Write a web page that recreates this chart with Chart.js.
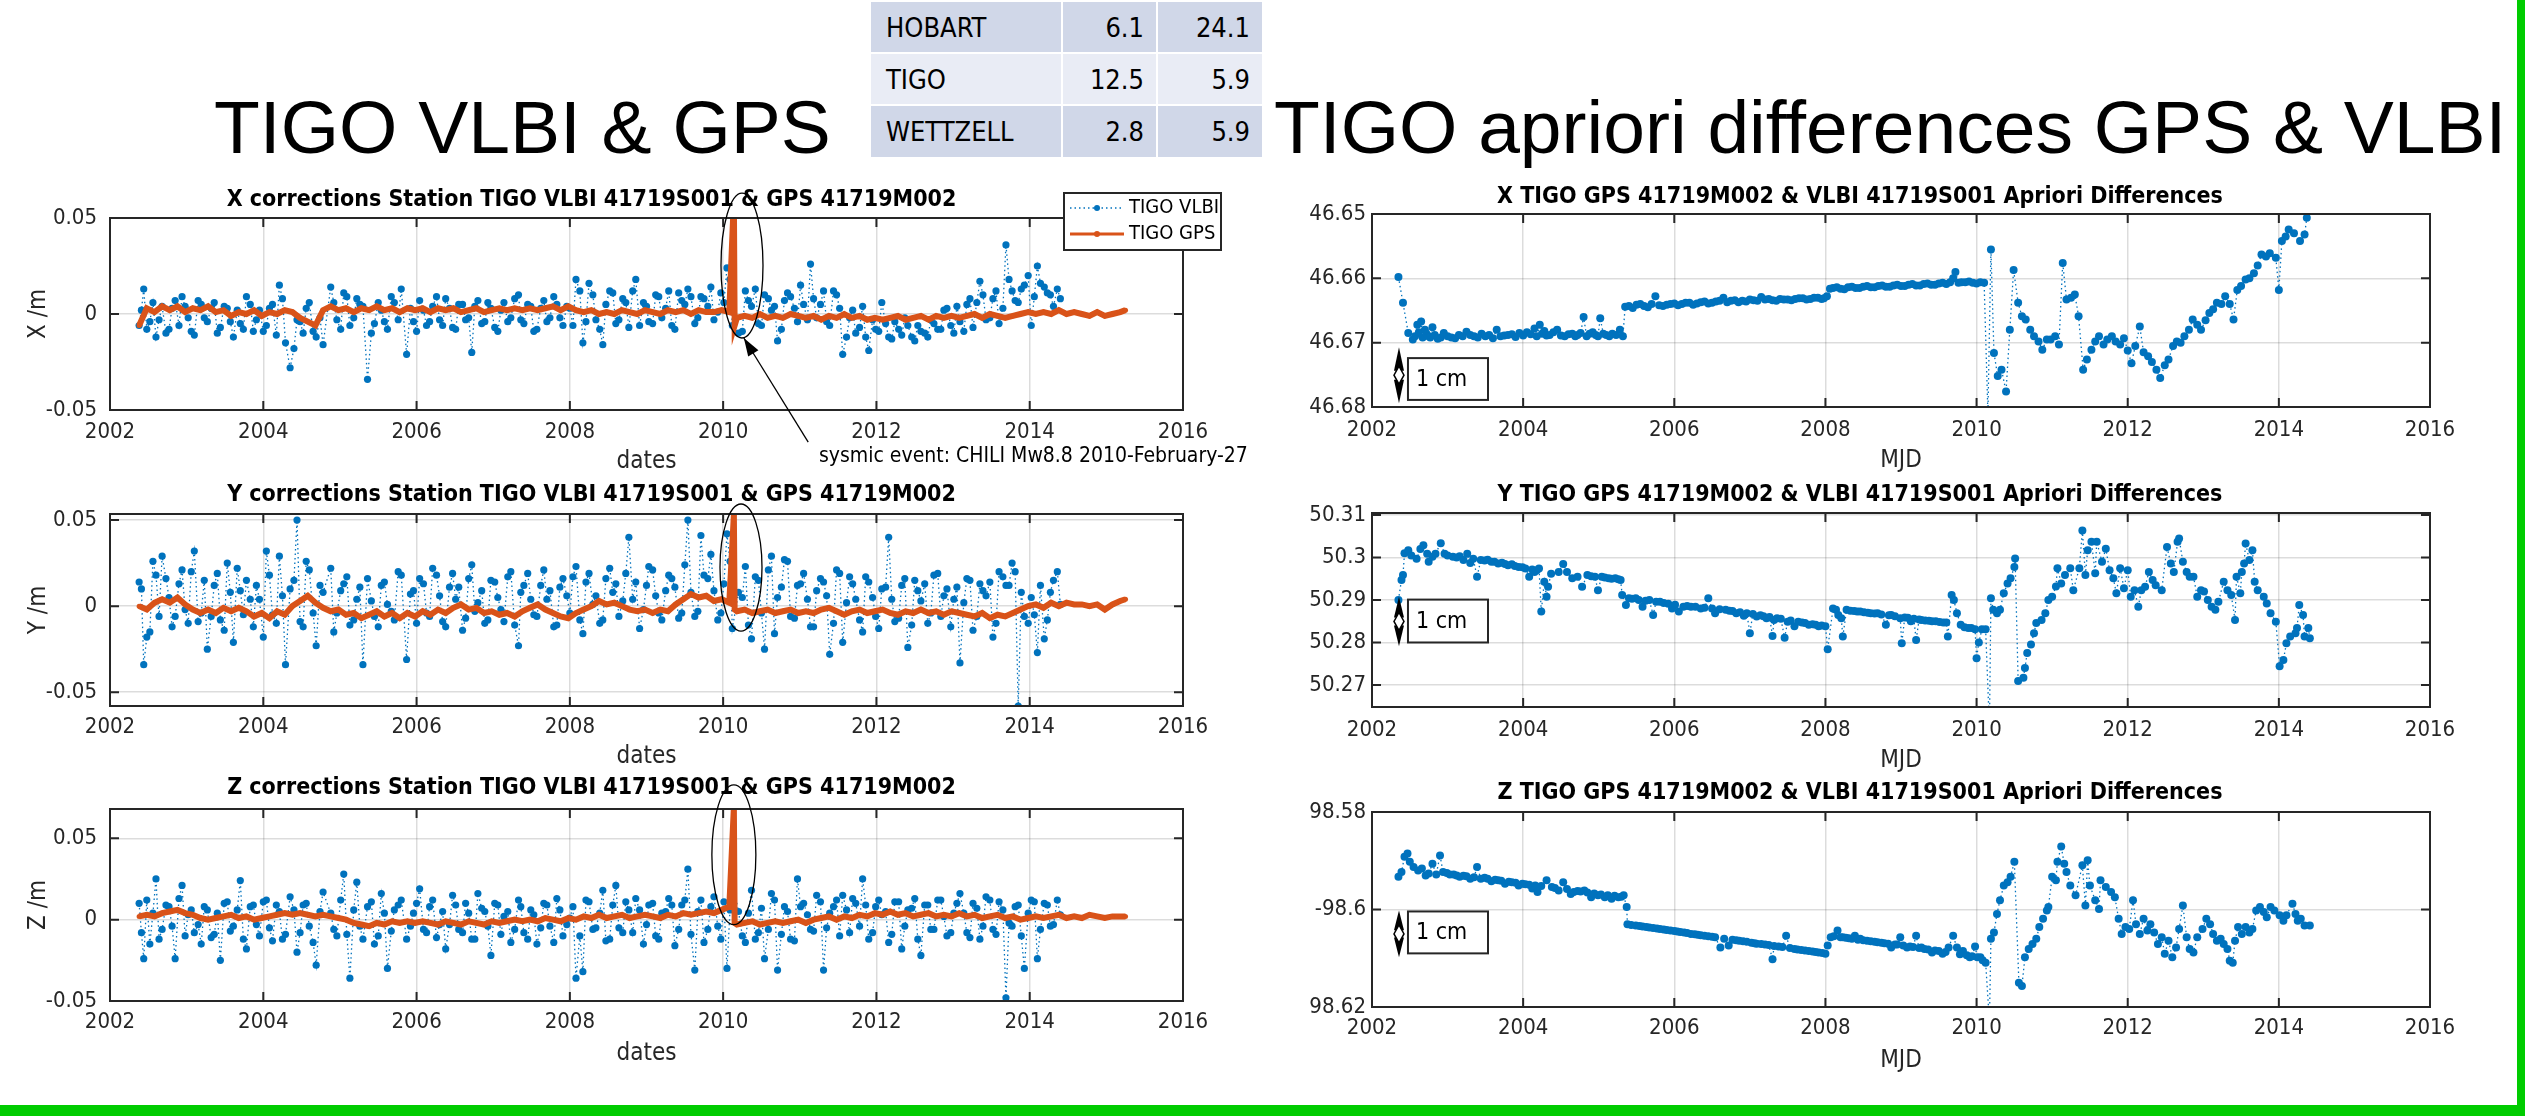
<!DOCTYPE html>
<html>
<head>
<meta charset="utf-8">
<script src="https://cdn.jsdelivr.net/npm/chart.js@4.4.1/dist/chart.umd.min.js"></script>
<style>
html,body{margin:0;padding:0;background:#fff;width:2525px;height:1116px;overflow:hidden;position:relative}
.big{position:absolute;font-family:'Liberation Sans',Arial,sans-serif;font-size:75px;line-height:75px;color:#000;white-space:nowrap}
.cell{position:absolute;display:flex;align-items:center;font-family:'Liberation Sans Narrow','DejaVu Sans Condensed',sans-serif;font-size:27px;color:#000;box-sizing:border-box}
canvas{position:absolute}
</style>
</head>
<body>
<div class="big" style="left:214px;top:90px">TIGO VLBI &amp; GPS</div>
<div class="big" style="left:1274px;top:90px">TIGO apriori differences GPS &amp; VLBI</div>
<div id="tbl"></div>
<div style="position:absolute;left:0;top:1105px;width:2525px;height:11px;background:#00cc00"></div>
<div style="position:absolute;left:2517px;top:0;width:8px;height:1116px;background:#00cc00"></div>
<script>
// ---------- table ----------
const tableNames = ['HOBART','TIGO','WETTZELL'];
const tableCol1 = ['6.1','12.5','2.8'];
const tableCol2 = ['24.1','5.9','5.9'];

// ---------- tick labels ----------
const X_TICKS = [2002,2004,2006,2008,2010,2012,2014,2016];
const X_TICK_LABELS = ['2002','2004','2006','2008','2010','2012','2014','2016'];
const CORR_TICKS = [-0.05,0,0.05];
const CORR_TICK_LABELS = ['-0.05','0','0.05'];
const APR_X_TICKS = [46.65,46.66,46.67,46.68];
const APR_X_TICK_LABELS = ['46.65','46.66','46.67','46.68'];
const APR_Y_TICKS = [50.27,50.28,50.29,50.30,50.31];
const APR_Y_TICK_LABELS = ['50.27','50.28','50.29','50.3','50.31'];
const APR_Z_TICKS = [98.58,98.60,98.62];
const APR_Z_TICK_LABELS = ['98.58','-98.6','98.62'];

// ---------- VLBI corrections (left column) ----------
const vlbiDates = [
2002.38,2002.44,2002.52,2002.60,2002.68,2002.77,2002.85,2002.94,2003.02,2003.10,
2003.19,2003.27,2003.36,2003.44,2003.53,2003.61,2003.70,2003.78,2003.87,2003.95,
2004.04,2004.12,2004.21,2004.29,2004.35,2004.44,2004.52,2004.60,2004.69,2004.78,
2004.88,2004.96,2005.05,2005.13,2005.22,2005.30,2005.36,2005.45,2005.54,2005.62,
2005.71,2005.80,2005.87,2005.96,2006.04,2006.13,2006.21,2006.30,2006.38,2006.47,
2006.55,2006.64,2006.72,2006.80,2006.89,2006.97,2007.06,2007.14,2007.23,2007.33,
2007.40,2007.49,2007.57,2007.66,2007.74,2007.83,2007.91,2008.00,2008.08,2008.17,
2008.25,2008.34,2008.43,2008.52,2008.60,2008.69,2008.77,2008.86,2008.96,2009.03,
2009.12,2009.20,2009.29,2009.37,2009.46,2009.54,2009.63,2009.71,2009.80,2009.88,
2009.97,2010.05,2010.12,2010.20,2010.29,2010.37,2010.46,2010.54,2010.63,2010.71,
2010.80,2010.88,2010.97,2011.05,2011.14,2011.22,2011.31,2011.39,2011.48,2011.56,
2011.65,2011.73,2011.82,2011.90,2011.99,2012.07,2012.16,2012.24,2012.33,2012.41,
2012.50,2012.58,2012.67,2012.75,2012.84,2012.92,2013.01,2013.09,2013.18,2013.26,
2013.35,2013.43,2013.52,2013.60,2013.69,2013.77,2013.85,2013.93,2014.02,2014.10,
2014.19,2014.27,2014.36,2014.40];
const vlbiX = [
-0.006,0.013,-0.004,-0.012,0.004,-0.008,0.007,0.009,-0.002,-0.011,
0.005,-0.004,0.006,-0.007,0.003,-0.012,-0.005,0.009,-0.009,0.002,
-0.006,0.005,0.015,-0.015,-0.028,-0.003,-0.010,0.006,-0.012,-0.016,
0.014,-0.003,0.011,-0.006,0.008,0.004,-0.034,-0.005,0.002,-0.008,
0.006,0.013,-0.021,-0.004,0.007,-0.006,0.004,-0.003,0.008,-0.007,
0.005,-0.003,-0.020,0.007,-0.004,0.003,-0.009,0.006,-0.002,0.010,
-0.005,0.004,-0.008,0.007,-0.002,0.005,-0.006,0.003,0.018,-0.015,
0.016,-0.003,-0.016,0.012,-0.005,0.008,-0.007,0.018,0.006,-0.004,
0.010,-0.002,0.012,-0.008,0.007,0.013,-0.005,0.009,0.004,-0.003,
0.011,0.024,-0.006,-0.010,0.012,0.004,-0.005,0.010,0.002,-0.014,
0.007,0.009,-0.004,0.005,0.026,-0.002,0.012,-0.006,0.010,-0.021,
-0.002,-0.010,0.004,-0.019,-0.008,0.006,-0.012,-0.004,-0.011,-0.006,
-0.014,-0.009,-0.012,-0.005,-0.008,0.003,-0.010,-0.004,0.005,-0.007,
0.017,-0.003,0.008,-0.005,0.036,0.012,0.006,0.015,-0.006,0.025,
0.014,0.010,0.013,0.008];
const vlbiY = [
0.014,-0.034,-0.015,0.018,0.029,0.005,-0.006,0.021,-0.010,0.032,
-0.004,-0.025,0.012,-0.008,0.025,-0.021,0.009,0.015,-0.012,0.004,
0.032,-0.005,0.029,-0.034,0.010,0.050,-0.012,0.021,-0.023,0.008,
0.022,-0.004,0.013,-0.011,0.004,-0.034,0.016,-0.006,0.012,0.001,
-0.008,0.018,-0.031,0.009,0.016,-0.004,0.022,0.006,-0.012,0.019,
0.011,-0.007,0.024,0.002,-0.010,0.015,0.005,-0.009,0.020,-0.023,
0.012,0.004,-0.006,0.021,0.009,-0.011,0.016,-0.004,0.023,-0.016,
0.019,0.006,-0.008,0.022,0.013,0.003,0.040,0.014,-0.002,0.023,
0.006,-0.008,0.018,0.011,-0.004,0.050,-0.006,0.041,0.016,0.009,
-0.004,0.042,-0.013,0.008,0.023,-0.019,0.015,-0.025,0.029,0.005,
0.027,-0.006,0.012,0.019,-0.012,0.009,0.014,-0.028,0.021,-0.021,
0.017,0.004,-0.015,0.014,-0.006,0.010,0.040,-0.009,0.012,-0.024,
0.015,0.003,-0.010,0.018,-0.006,0.010,0.004,-0.033,0.016,-0.014,
0.013,0.006,-0.018,0.020,0.012,0.025,-0.058,-0.006,0.005,-0.027,
-0.019,0.008,0.020,0.001];
const vlbiZ = [
0.010,-0.024,-0.015,0.025,-0.006,0.008,-0.024,0.021,0.003,-0.008,
-0.015,0.006,-0.009,-0.025,0.011,-0.004,0.024,-0.018,0.009,-0.010,
0.012,-0.013,0.005,-0.009,0.014,-0.020,0.009,-0.004,-0.028,0.017,
0.004,-0.010,0.028,-0.036,0.023,-0.012,0.008,-0.015,0.016,-0.030,
0.006,0.012,-0.012,0.004,0.019,-0.008,0.012,-0.003,-0.018,0.015,
-0.006,0.010,-0.012,0.016,0.005,-0.022,0.009,0.002,-0.014,0.012,
-0.008,0.006,-0.015,0.010,-0.004,0.013,-0.010,0.001,-0.036,-0.032,
0.011,-0.005,0.018,-0.012,0.021,-0.008,0.006,0.013,-0.015,0.009,
-0.010,0.004,0.013,-0.016,0.009,0.031,-0.031,0.012,-0.006,0.014,
-0.012,-0.030,0.024,0.005,-0.014,0.018,-0.008,-0.024,0.016,-0.031,
0.008,-0.012,0.025,0.010,-0.006,0.015,-0.031,0.004,0.012,0.015,
-0.008,0.010,0.025,-0.012,0.008,0.003,-0.014,0.011,-0.018,0.006,
0.013,-0.022,0.009,-0.006,0.012,-0.010,0.004,0.016,-0.008,0.010,
-0.012,0.014,-0.006,0.011,-0.048,-0.004,0.009,-0.030,0.012,-0.024,
0.010,-0.004,0.012,0.003];
// additional VLBI sessions (interleaved with the ones above)
const vlbiDates2 = [
2002.41,2002.48,2002.56,2002.64,2002.73,2002.81,2002.90,2002.98,2003.06,2003.15,
2003.23,2003.32,2003.40,2003.49,2003.57,2003.66,2003.74,2003.83,2003.91,2004.00,
2004.08,2004.17,2004.25,2004.40,2004.48,2004.56,2004.65,2004.74,2004.92,2005.01,
2005.09,2005.18,2005.26,2005.41,2005.50,2005.58,2005.67,2005.76,2005.92,2006.00,
2006.09,2006.17,2006.26,2006.34,2006.43,2006.51,2006.60,2006.68,2006.76,2006.85,
2006.93,2007.02,2007.10,2007.19,2007.28,2007.36,2007.45,2007.53,2007.62,2007.70,
2007.79,2007.87,2007.96,2008.04,2008.13,2008.21,2008.30,2008.39,2008.47,2008.56,
2008.64,2008.73,2008.82,2008.91,2009.00,2009.08,2009.16,2009.25,2009.33,2009.42,
2009.50,2009.58,2009.67,2009.75,2009.84,2009.93,2010.01,2010.09,2010.25,2010.33,
2010.42,2010.50,2010.59,2010.67,2010.76,2010.84,2010.93,2011.01,2011.10,2011.18,
2011.27,2011.35,2011.44,2011.52,2011.61,2011.69,2011.78,2011.86,2011.95,2012.03,
2012.12,2012.20,2012.29,2012.37,2012.46,2012.54,2012.63,2012.71,2012.80,2012.88,
2012.97,2013.05,2013.14,2013.22,2013.31,2013.39,2013.48,2013.56,2013.65,2013.73,
2013.81,2013.89,2013.98,2014.06,2014.14,2014.23,2014.31];
const vlbiX2 = [
0.002,-0.008,0.006,-0.003,-0.010,0.003,-0.006,0.004,-0.009,0.007,
-0.002,0.003,-0.010,0.004,-0.004,0.002,-0.008,0.005,-0.003,-0.009,
0.003,-0.011,0.008,-0.018,-0.004,0.003,-0.009,-0.002,0.006,-0.008,
0.009,-0.002,0.005,-0.010,0.006,-0.004,0.009,-0.003,0.003,-0.009,
0.002,-0.004,0.009,-0.006,0.003,-0.008,0.005,-0.002,0.004,-0.005,
0.006,-0.007,0.002,-0.004,0.008,-0.003,0.005,-0.009,0.003,-0.004,
0.009,-0.002,0.004,-0.006,0.012,-0.004,0.010,-0.008,0.005,0.011,
-0.003,0.006,0.012,-0.006,0.004,-0.005,0.009,0.003,-0.006,0.011,
0.005,0.009,-0.002,0.008,0.014,0.001,0.006,0.018,-0.009,0.007,
0.013,-0.006,0.008,0.004,-0.008,0.011,0.003,0.015,-0.003,0.008,
0.005,-0.004,0.012,0.003,-0.012,0.002,-0.007,-0.012,-0.003,-0.009,
-0.005,-0.013,-0.008,-0.002,-0.012,-0.006,-0.010,-0.003,-0.008,0.002,
-0.006,0.004,-0.009,0.008,0.006,0.010,-0.002,0.012,0.003,0.018,
0.007,0.013,0.020,0.009,0.016,0.011,0.004];
const vlbiY2 = [
0.010,-0.018,0.026,-0.006,0.016,-0.012,0.013,-0.002,0.020,-0.009,
0.015,-0.006,0.019,-0.014,0.008,0.022,-0.005,0.004,0.012,-0.018,
0.018,-0.010,0.006,0.015,-0.009,0.026,-0.004,0.012,-0.015,0.009,
0.017,-0.008,0.011,0.003,-0.012,0.014,-0.003,0.020,0.007,-0.010,
0.013,-0.006,0.018,-0.009,0.011,0.004,-0.014,0.016,-0.003,0.009,
-0.008,0.014,-0.002,0.017,-0.011,0.008,0.019,-0.005,0.012,0.004,
-0.012,0.011,0.006,0.017,-0.008,0.014,0.001,-0.010,0.016,0.008,
-0.006,0.019,0.004,-0.013,0.012,0.021,-0.004,0.009,0.016,-0.007,
0.024,0.008,-0.003,0.018,0.030,-0.008,0.013,0.026,0.005,-0.011,
0.017,-0.004,0.021,-0.016,0.011,0.026,-0.007,0.013,0.004,-0.012,
0.016,0.006,-0.010,0.019,0.002,0.013,-0.008,0.017,0.005,-0.013,
0.011,0.004,-0.007,0.016,-0.011,0.009,0.013,-0.004,0.019,0.006,
-0.012,0.011,0.002,0.015,-0.006,0.009,0.014,-0.010,0.017,0.012,
0.020,0.008,-0.010,-0.005,0.012,-0.008,0.015];
const vlbiZ2 = [
-0.008,0.012,0.004,-0.012,0.009,-0.004,0.013,-0.010,0.006,-0.003,
0.008,-0.011,0.004,0.010,-0.007,0.006,-0.012,0.008,-0.003,0.011,
-0.005,0.009,-0.012,0.006,-0.008,0.010,-0.014,0.005,-0.006,0.012,
-0.009,0.006,-0.004,0.011,-0.010,0.004,-0.007,0.009,-0.004,0.010,
-0.006,0.008,-0.011,0.005,-0.003,0.009,-0.008,0.004,-0.012,0.007,
-0.004,0.010,-0.009,0.005,-0.006,0.008,-0.012,0.003,-0.005,0.009,
-0.014,0.006,-0.003,0.008,-0.010,0.012,-0.006,0.004,-0.013,0.009,
-0.005,0.011,-0.008,0.006,-0.003,0.010,-0.012,0.005,0.009,-0.006,
0.012,-0.009,0.005,-0.014,0.008,-0.004,0.011,0.006,-0.010,0.004,
-0.012,0.007,-0.006,0.012,-0.009,0.005,-0.013,0.008,0.003,-0.007,
0.011,-0.005,0.008,-0.010,0.006,0.013,-0.004,0.009,-0.008,0.012,
0.005,-0.009,0.011,-0.004,0.007,-0.012,0.009,-0.006,0.012,0.002,
-0.008,0.010,0.004,-0.011,0.007,-0.004,0.012,-0.009,0.006,-0.002,
0.008,-0.010,0.004,0.011,-0.006,0.009,-0.003];

// ---------- GPS corrections (left column) ----------
const gpsDates = [
2002.38,2002.48,2002.58,2002.68,2002.78,2002.88,2002.98,2003.08,2003.18,2003.28,
2003.38,2003.48,2003.58,2003.68,2003.78,2003.88,2003.98,2004.08,2004.18,2004.28,
2004.38,2004.48,2004.58,2004.68,2004.78,2004.88,2004.98,2005.08,2005.18,2005.28,
2005.38,2005.48,2005.58,2005.68,2005.78,2005.88,2005.98,2006.08,2006.18,2006.28,
2006.38,2006.48,2006.58,2006.68,2006.78,2006.88,2006.98,2007.08,2007.18,2007.28,
2007.38,2007.48,2007.58,2007.68,2007.78,2007.88,2007.98,2008.08,2008.18,2008.28,
2008.38,2008.48,2008.58,2008.68,2008.78,2008.88,2008.98,2009.08,2009.18,2009.28,
2009.38,2009.48,2009.58,2009.68,2009.78,2009.88,2009.98,2010.08,2010.14,2010.15,
2010.18,2010.28,2010.38,2010.48,2010.58,2010.68,2010.78,2010.88,2010.98,2011.08,
2011.18,2011.28,2011.38,2011.48,2011.58,2011.68,2011.78,2011.88,2011.98,2012.08,
2012.18,2012.28,2012.38,2012.48,2012.58,2012.68,2012.78,2012.88,2012.98,2013.08,
2013.18,2013.28,2013.38,2013.48,2013.58,2013.68,2013.78,2013.88,2013.98,2014.08,
2014.18,2014.28,2014.38,2014.48,2014.58,2014.68,2014.78,2014.88,2014.98,2015.08,
2015.18,2015.25];
const gpsX = [
-0.006,0.003,0.001,0.004,0.002,0.004,0.001,0.003,0.002,0.004,
0.001,0.002,-0.001,0.001,0.000,0.002,-0.001,0.001,0.000,0.002,
0.001,-0.002,-0.004,-0.006,0.002,0.004,0.002,0.003,0.001,0.003,
0.002,0.004,0.002,0.003,0.001,0.003,0.002,0.003,0.001,0.003,
0.002,0.003,0.001,0.002,0.003,0.001,0.002,0.003,0.002,0.003,
0.002,0.003,0.002,0.003,0.004,0.002,0.004,0.002,0.001,0.002,
0.000,0.001,0.000,0.002,0.001,0.000,0.002,0.001,0.000,0.002,
0.001,0.002,0.000,0.002,0.001,0.001,0.002,0.001,0.060,-0.006,
-0.002,-0.001,-0.002,0.000,-0.002,-0.001,-0.002,0.000,-0.001,-0.002,
-0.001,-0.003,-0.001,-0.002,0.000,-0.002,-0.001,-0.003,-0.002,-0.003,
-0.002,-0.001,-0.003,-0.002,-0.001,-0.003,-0.001,-0.002,-0.001,-0.002,
-0.001,0.000,-0.002,0.000,-0.001,-0.002,-0.001,0.000,0.001,0.000,
0.001,0.000,0.002,0.000,0.001,0.000,-0.001,0.001,-0.001,0.000,
0.001,0.002];
const gpsY = [
0.000,-0.002,0.002,0.004,0.002,0.005,0.001,-0.002,-0.004,-0.002,
-0.004,-0.001,-0.003,-0.001,-0.003,-0.006,-0.004,-0.007,-0.003,-0.005,
0.000,0.003,0.006,0.002,-0.001,-0.003,-0.002,-0.005,-0.004,-0.007,
-0.005,-0.003,-0.006,-0.004,-0.007,-0.004,-0.006,-0.003,-0.005,-0.002,
-0.004,-0.001,0.001,-0.002,-0.001,-0.004,-0.003,-0.005,-0.004,-0.006,
-0.003,-0.001,0.001,-0.002,-0.004,-0.006,-0.007,-0.004,-0.002,0.000,
0.003,0.001,0.002,0.000,-0.002,-0.003,-0.002,-0.004,-0.002,-0.003,
0.001,0.004,0.007,0.005,0.006,0.003,0.004,0.002,0.053,-0.002,
-0.003,-0.002,-0.004,-0.003,-0.002,-0.004,-0.003,-0.002,-0.004,-0.003,
-0.004,-0.002,-0.001,-0.003,-0.005,-0.003,-0.002,-0.004,-0.003,-0.002,
-0.004,-0.005,-0.003,-0.004,-0.002,-0.004,-0.003,-0.005,-0.003,-0.004,
-0.005,-0.006,-0.004,-0.007,-0.005,-0.006,-0.004,-0.002,0.000,0.001,
-0.001,0.002,0.000,0.002,0.001,0.001,0.000,0.001,-0.002,0.001,
0.003,0.004];
const gpsZ = [
0.002,0.003,0.002,0.004,0.005,0.006,0.004,0.003,0.001,0.000,
0.001,0.002,0.003,0.001,0.002,0.000,0.001,0.002,0.003,0.004,
0.003,0.004,0.003,0.002,0.003,0.002,0.001,0.000,-0.002,-0.003,
-0.004,-0.002,-0.003,-0.001,-0.002,-0.001,-0.002,-0.001,-0.002,-0.003,
-0.001,-0.002,-0.003,-0.001,-0.002,-0.003,-0.001,-0.002,-0.001,0.000,
-0.001,0.000,-0.001,0.001,0.000,-0.001,0.001,0.000,0.002,0.001,
0.003,0.001,0.002,0.003,0.001,0.002,0.003,0.002,0.001,0.003,
0.002,0.004,0.003,0.004,0.005,0.004,0.006,0.008,0.069,-0.002,
-0.003,-0.002,-0.001,-0.003,-0.002,-0.001,-0.002,-0.001,0.000,-0.002,
0.000,0.001,0.002,0.000,0.002,0.001,0.003,0.002,0.004,0.003,
0.005,0.003,0.004,0.002,0.003,0.004,0.002,0.003,0.002,0.004,
0.002,0.003,0.001,0.002,0.003,0.001,0.002,0.000,0.001,0.002,
0.001,0.002,0.003,0.001,0.002,0.001,0.003,0.002,0.001,0.002,
0.002,0.002];

// ---------- Apriori differences (right column) ----------
const aprXDates = [
2002.35,2002.41,2002.48,2002.54,2002.60,2002.65,2002.70,2002.75,2002.80,2002.87,
2002.95,2003.05,2003.15,2003.25,2003.35,2003.45,2003.55,2003.65,2003.75,2003.85,
2003.95,2004.05,2004.15,2004.22,2004.28,2004.35,2004.45,2004.55,2004.65,2004.72,
2004.80,2004.88,2004.96,2005.02,2005.10,2005.18,2005.28,2005.32,2005.35,2005.45,
2005.55,2005.65,2005.75,2005.85,2005.95,2006.05,2006.15,2006.25,2006.35,2006.45,
2006.55,2006.65,2006.75,2006.85,2006.95,2007.05,2007.15,2007.25,2007.35,2007.45,
2007.55,2007.65,2007.75,2007.85,2007.95,2008.02,2008.06,2008.15,2008.25,2008.35,
2008.45,2008.55,2008.65,2008.75,2008.85,2008.95,2009.05,2009.15,2009.25,2009.35,
2009.45,2009.55,2009.65,2009.72,2009.80,2009.90,2010.00,2010.10,2010.15,2010.19,
2010.23,2010.28,2010.33,2010.39,2010.44,2010.49,2010.55,2010.60,2010.65,2010.71,
2010.76,2010.82,2010.87,2010.93,2010.98,2011.04,2011.09,2011.14,2011.19,2011.25,
2011.30,2011.35,2011.41,2011.46,2011.52,2011.57,2011.62,2011.68,2011.73,2011.79,
2011.84,2011.90,2011.95,2012.00,2012.05,2012.10,2012.16,2012.21,2012.27,2012.32,
2012.38,2012.43,2012.49,2012.54,2012.60,2012.65,2012.70,2012.75,2012.81,2012.86,
2012.92,2012.97,2013.03,2013.08,2013.13,2013.18,2013.24,2013.29,2013.35,2013.40,
2013.45,2013.50,2013.56,2013.61,2013.67,2013.72,2013.77,2013.83,2013.88,2013.96,
2014.00,2014.04,2014.09,2014.13,2014.20,2014.28,2014.34,2014.37];
const aprXValues = [
46.6598,46.6638,46.6685,46.6695,46.6672,46.6667,46.6680,46.6690,46.6676,46.6694,
46.6685,46.6692,46.6688,46.6683,46.6690,46.6686,46.6688,46.6680,46.6689,46.6687,
46.6685,46.6684,46.6678,46.6672,46.6682,46.6688,46.6680,46.6690,46.6686,46.6688,
46.6660,46.6686,46.6688,46.6662,46.6688,46.6686,46.6680,46.6690,46.6644,46.6646,
46.6640,46.6645,46.6628,46.6643,46.6640,46.6642,46.6638,46.6641,46.6637,46.6639,
46.6636,46.6630,46.6635,46.6637,46.6636,46.6634,46.6629,46.6632,46.6635,46.6633,
46.6634,46.6631,46.6633,46.6630,46.6632,46.6628,46.6616,46.6614,46.6617,46.6613,
46.6615,46.6612,46.6614,46.6611,46.6613,46.6610,46.6612,46.6609,46.6611,46.6608,
46.6610,46.6607,46.6606,46.6590,46.6606,46.6605,46.6608,46.6607,46.6810,46.6555,
46.6716,46.6752,46.6742,46.6776,46.6680,46.6587,46.6638,46.6659,46.6664,46.6680,
46.6690,46.6698,46.6711,46.6695,46.6695,46.6690,46.6703,46.6576,46.6633,46.6630,
46.6625,46.6659,46.6742,46.6726,46.6711,46.6698,46.6690,46.6703,46.6695,46.6690,
46.6698,46.6703,46.6693,46.6712,46.6732,46.6705,46.6675,46.6715,46.6721,46.6730,
46.6742,46.6755,46.6735,46.6726,46.6705,46.6698,46.6700,46.6690,46.6680,46.6664,
46.6672,46.6680,46.6665,46.6654,46.6648,46.6638,46.6640,46.6628,46.6640,46.6664,
46.6618,46.6612,46.6602,46.6600,46.6592,46.6580,46.6563,46.6566,46.6561,46.6568,
46.6618,46.6542,46.6535,46.6524,46.6530,46.6542,46.6532,46.6506];
const aprXDates2 = [
2002.57,2002.62,2002.67,2002.72,2002.77,2002.83,2002.91,2003.00,2003.10,2003.20,
2003.30,2003.40,2003.50,2003.60,2003.70,2003.80,2003.90,2004.00,2004.10,2004.18,
2004.25,2004.31,2004.40,2004.50,2004.60,2004.69,2004.76,2004.84,2004.92,2004.99,
2005.06,2005.14,2005.23,
2005.40,2005.50,2005.60,2005.70,2005.80,2005.90,2006.00,2006.10,2006.20,2006.30,
2006.40,2006.50,2006.60,2006.70,2006.80,2006.90,2007.00,2007.10,2007.20,2007.30,
2007.40,2007.50,2007.60,2007.70,2007.80,2007.90,2007.98,
2008.10,2008.20,2008.30,2008.40,2008.50,2008.60,2008.70,2008.80,2008.90,2009.00,
2009.10,2009.20,2009.30,2009.40,2009.50,2009.60,2009.69,2009.76,2009.85,2009.95,2010.05];
const aprXValues2 = [
46.6690,46.6684,46.6692,46.6686,46.6692,46.6688,46.6692,46.6690,46.6693,46.6690,
46.6688,46.6692,46.6690,46.6693,46.6690,46.6688,46.6691,46.6689,46.6687,46.6690,
46.6686,46.6689,46.6684,46.6689,46.6687,46.6690,46.6685,46.6690,46.6684,46.6690,
46.6686,46.6690,46.6688,
46.6643,46.6641,46.6643,46.6640,46.6642,46.6641,46.6639,46.6640,46.6638,46.6639,
46.6636,46.6638,46.6635,46.6637,46.6634,46.6635,46.6633,46.6635,46.6633,46.6634,
46.6632,46.6633,46.6632,46.6631,46.6632,46.6630,46.6631,
46.6615,46.6616,46.6614,46.6615,46.6613,46.6614,46.6612,46.6613,46.6611,46.6612,
46.6610,46.6611,46.6609,46.6610,46.6608,46.6609,46.6600,46.6607,46.6606,46.6607,46.6606];

const aprYDates = [
2002.35,2002.39,2002.41,2002.43,2002.48,2002.52,2002.59,2002.64,2002.68,2002.73,
2002.75,2002.80,2002.84,2002.91,2002.96,2003.07,2003.21,2003.26,2003.30,2003.39,
2003.44,2003.58,2003.67,2003.80,2003.94,2004.03,2004.08,2004.15,2004.21,2004.24,
2004.28,2004.31,2004.33,2004.37,2004.47,2004.53,2004.58,2004.65,2004.72,2004.78,
2004.85,2004.95,2004.99,2005.04,2005.13,2005.22,2005.29,2005.31,2005.36,2005.40,
2005.49,2005.58,2005.67,2005.72,2005.81,2005.97,2006.06,2006.12,2006.22,2006.35,
2006.45,2006.54,2006.68,2006.82,2006.92,2007.00,2007.09,2007.22,2007.30,2007.32,
2007.46,2007.50,2007.59,2007.78,2007.91,2008.00,2008.03,2008.10,2008.17,2008.21,
2008.23,2008.28,2008.46,2008.69,2008.80,2008.87,2008.99,2009.01,2009.13,2009.20,
2009.27,2009.46,2009.60,2009.62,2009.67,2009.70,2009.74,2009.79,2009.89,2009.98,
2010.00,2010.03,2010.12,2010.17,2010.19,2010.22,2010.27,2010.31,2010.36,2010.41,
2010.45,2010.50,2010.51,2010.55,2010.62,2010.64,2010.67,2010.72,2010.76,2010.79,
2010.86,2010.91,2010.95,2011.00,2011.05,2011.07,2011.12,2011.17,2011.24,2011.28,
2011.36,2011.40,2011.44,2011.47,2011.52,2011.57,2011.59,2011.66,2011.71,2011.76,
2011.81,2011.85,2011.90,2011.95,2012.00,2012.04,2012.09,2012.14,2012.18,2012.23,
2012.28,2012.33,2012.37,2012.45,2012.52,2012.57,2012.61,2012.66,2012.68,2012.73,
2012.78,2012.82,2012.87,2012.92,2012.97,2013.01,2013.06,2013.11,2013.16,2013.20,
2013.27,2013.32,2013.37,2013.42,2013.44,2013.49,2013.51,2013.54,2013.56,2013.61,
2013.65,2013.68,2013.72,2013.80,2013.84,2013.89,2013.96,2014.01,2014.06,2014.10,
2014.15,2014.22,2014.24,2014.27,2014.32,2014.34,2014.39,2014.41];
const aprYValues = [
50.2900,50.2947,50.2959,50.3010,50.3017,50.3005,50.2997,50.3020,50.3029,50.3009,
50.2990,50.3002,50.3009,50.3034,50.3009,50.3002,50.2994,50.3009,50.2987,50.2955,
50.2994,50.2990,50.2986,50.2982,50.2978,50.2974,50.2955,50.2966,50.2974,50.2873,
50.2943,50.2908,50.2931,50.2962,50.2966,50.2985,50.2966,50.2951,50.2955,50.2931,
50.2959,50.2955,50.2923,50.2955,50.2951,50.2951,50.2947,50.2912,50.2888,50.2904,
50.2904,50.2884,50.2900,50.2865,50.2896,50.2880,50.2873,50.2884,50.2884,50.2880,
50.2904,50.2869,50.2877,50.2869,50.2863,50.2822,50.2861,50.2857,50.2815,50.2853,
50.2811,50.2849,50.2838,50.2842,50.2838,50.2838,50.2784,50.2880,50.2865,50.2857,
50.2814,50.2877,50.2873,50.2869,50.2842,50.2865,50.2857,50.2798,50.2850,50.2806,
50.2853,50.2850,50.2847,50.2814,50.2912,50.2900,50.2869,50.2842,50.2834,50.2831,
50.2763,50.2800,50.2831,50.2600,50.2904,50.2877,50.2869,50.2877,50.2916,50.2939,
50.2951,50.2978,50.2998,50.2709,50.2717,50.2740,50.2775,50.2795,50.2822,50.2846,
50.2853,50.2869,50.2900,50.2908,50.2932,50.2975,50.2939,50.2959,50.2975,50.2923,
50.2975,50.3064,50.2959,50.3017,50.3037,50.2963,50.3037,50.2990,50.3021,50.2970,
50.2951,50.2916,50.2975,50.2928,50.2970,50.2908,50.2923,50.2884,50.2923,50.2931,
50.2966,50.2947,50.2935,50.2923,50.3025,50.2986,50.2966,50.3037,50.3045,50.2990,
50.2966,50.2955,50.2955,50.2908,50.2923,50.2920,50.2900,50.2884,50.2877,50.2896,
50.2943,50.2923,50.2912,50.2853,50.2955,50.2916,50.2966,50.2986,50.3033,50.2994,
50.3017,50.2943,50.2923,50.2908,50.2892,50.2869,50.2849,50.2744,50.2759,50.2798,
50.2814,50.2822,50.2834,50.2888,50.2865,50.2814,50.2834,50.2810];
const aprYDates2 = [
2003.00,2003.12,2003.16,2003.34,2003.49,2003.53,2003.62,2003.72,2003.76,2003.85,
2003.89,2003.99,2004.12,2004.18,2004.90,2005.08,2005.17,2005.26,
2005.44,2005.53,2005.62,2005.76,2005.86,2005.92,2006.01,2006.17,2006.28,2006.40,
2006.50,2006.60,2006.73,2006.77,2006.87,2006.96,2007.04,2007.14,2007.18,2007.26,
2007.36,2007.41,2007.54,2007.64,2007.69,2007.73,2007.83,2007.87,2007.95,
2008.14,2008.33,2008.38,2008.42,2008.51,2008.56,2008.60,2008.65,2008.74,2008.84,
2008.92,2009.05,2009.09,2009.17,2009.24,2009.32,2009.37,2009.41,2009.51,2009.56,
2009.84,2009.93,2010.07];
const aprYValues2 = [
50.3005,50.3000,50.3003,50.2997,50.2993,50.2995,50.2990,50.2988,50.2985,50.2984,
50.2980,50.2977,50.2972,50.2970,50.2956,50.2953,50.2950,50.2949,
50.2903,50.2900,50.2898,50.2896,50.2893,50.2891,50.2889,50.2886,50.2884,50.2882,
50.2880,50.2878,50.2875,50.2874,50.2871,50.2869,50.2867,50.2864,50.2862,50.2860,
50.2857,50.2856,50.2852,50.2849,50.2847,50.2846,50.2843,50.2842,50.2840,
50.2877,50.2875,50.2874,50.2873,50.2871,50.2870,50.2869,50.2868,50.2866,50.2864,
50.2862,50.2859,50.2858,50.2856,50.2854,50.2852,50.2851,50.2850,50.2848,50.2847,
50.2836,50.2834,50.2831];

const aprZDates = [
2002.35,2002.39,2002.43,2002.47,2002.50,2002.55,2002.61,2002.66,2002.71,2002.75,
2002.80,2002.85,2002.90,2002.94,2003.03,2003.16,2003.30,2003.39,2003.44,2003.58,
2003.76,2003.94,2004.12,2004.19,2004.31,2004.38,2004.47,2004.53,2004.63,2004.67,
2004.81,2004.90,2004.99,2005.08,2005.17,2005.26,2005.33,2005.37,2005.38,2005.49,
2005.63,2005.72,2005.81,2005.95,2006.08,2006.22,2006.35,2006.45,2006.54,2006.61,
2006.72,2006.86,2007.02,2007.09,2007.15,2007.30,2007.32,2007.48,2007.59,2007.68,
2007.78,2007.91,2008.00,2008.03,2008.07,2008.16,2008.23,2008.39,2008.46,2008.69,
2008.87,2008.99,2009.08,2009.20,2009.27,2009.41,2009.55,2009.63,2009.69,2009.74,
2009.82,2009.91,2009.98,2010.05,2010.12,2010.17,2010.19,2010.23,2010.27,2010.31,
2010.36,2010.41,2010.45,2010.50,2010.56,2010.60,2010.64,2010.69,2010.74,2010.79,
2010.83,2010.88,2010.93,2010.95,2011.00,2011.05,2011.07,2011.12,2011.16,2011.19,
2011.24,2011.31,2011.40,2011.44,2011.47,2011.50,2011.57,2011.62,2011.64,2011.71,
2011.78,2011.83,2011.88,2011.92,2011.97,2012.02,2012.07,2012.11,2012.16,2012.21,
2012.26,2012.30,2012.35,2012.40,2012.45,2012.49,2012.54,2012.59,2012.64,2012.68,
2012.73,2012.78,2012.82,2012.87,2012.92,2012.99,2013.04,2013.09,2013.13,2013.18,
2013.23,2013.27,2013.32,2013.35,2013.39,2013.42,2013.46,2013.51,2013.56,2013.61,
2013.65,2013.70,2013.75,2013.80,2013.84,2013.89,2013.94,2014.01,2014.06,2014.10,
2014.18,2014.22,2014.25,2014.29,2014.34,2014.41];
const aprZValues = [
98.5933,98.5923,98.5892,98.5885,98.5902,98.5913,98.5920,98.5916,98.5930,98.5926,
98.5906,98.5928,98.5889,98.5923,98.5928,98.5933,98.5937,98.5913,98.5937,98.5942,
98.5947,98.5951,98.5957,98.5964,98.5940,98.5954,98.5961,98.5944,98.5968,98.5964,
98.5961,98.5975,98.5971,98.5975,98.5978,98.5975,98.5971,98.5995,98.6030,98.6033,
98.6036,98.6038,98.6040,98.6043,98.6046,98.6050,98.6053,98.6055,98.6057,98.6078,
98.6074,98.6064,98.6068,98.6070,98.6071,98.6102,98.6075,98.6054,98.6081,98.6083,
98.6085,98.6088,98.6091,98.6074,98.6057,98.6043,98.6057,98.6054,98.6060,98.6067,
98.6078,98.6057,98.6078,98.6054,98.6078,98.6088,98.6091,98.6078,98.6054,98.6078,
98.6085,98.6098,98.6076,98.6098,98.6109,98.6230,98.6060,98.6047,98.6009,98.5981,
98.5951,98.5944,98.5933,98.5902,98.6150,98.6157,98.6098,98.6081,98.6071,98.6060,
98.6036,98.6019,98.6002,98.5995,98.5933,98.5940,98.5902,98.5871,98.5906,98.5923,
98.5951,98.5971,98.5909,98.5992,98.5899,98.5951,98.5981,98.5999,98.5940,98.5954,
98.5964,98.5975,98.6019,98.6050,98.6036,98.6040,98.5981,98.6030,98.6050,98.6019,
98.6043,98.6030,98.6047,98.6071,98.6057,98.6091,98.6064,98.6098,98.6078,98.6040,
98.5992,98.6057,98.6081,98.6088,98.6057,98.6040,98.6019,98.6030,98.6050,98.6064,
98.6060,98.6071,98.6081,98.6105,98.6109,98.6064,98.6036,98.6050,98.6036,98.6047,
98.6040,98.6002,98.5995,98.6005,98.6016,98.5995,98.6002,98.6012,98.6023,98.6012,
98.5988,98.6009,98.6023,98.6019,98.6033,98.6033];
const aprZDates2 = [
2002.99,2003.08,2003.12,2003.21,2003.25,2003.35,2003.49,2003.53,2003.63,2003.67,
2003.71,2003.81,2003.85,2003.90,2003.99,2004.03,2004.08,2004.16,2004.24,2004.42,
2004.58,2004.72,2004.76,2004.85,2004.94,2005.03,2005.12,2005.21,2005.30,
2005.43,2005.54,2005.58,2005.67,2005.77,2005.86,2005.90,2006.00,2006.04,2006.13,
2006.17,2006.27,2006.31,2006.40,2006.50,2006.66,2006.77,2006.82,2006.91,2006.96,
2007.06,2007.20,2007.25,2007.38,2007.43,2007.53,2007.63,2007.73,2007.83,2007.87,2007.96,
2008.11,2008.20,2008.27,2008.31,2008.35,2008.43,2008.50,2008.55,2008.60,2008.65,
2008.74,2008.78,2008.83,2008.92,2008.95,2009.03,2009.12,2009.16,2009.24,2009.31,
2009.36,2009.45,2009.50,2009.59,2009.78,2009.87,2009.94,2010.01,2010.08];
const aprZValues2 = [
98.5925,98.5928,98.5930,98.5931,98.5932,98.5934,98.5935,98.5937,98.5939,98.5940,
98.5941,98.5943,98.5944,98.5945,98.5947,98.5948,98.5949,98.5951,98.5952,98.5956,
98.5958,98.5962,98.5963,98.5965,98.5967,98.5969,98.5971,98.5972,98.5974,
98.6032,98.6034,98.6035,98.6037,98.6039,98.6041,98.6042,98.6044,98.6045,98.6047,
98.6048,98.6051,98.6052,98.6054,98.6056,98.6060,98.6062,98.6063,98.6065,98.6066,
98.6069,98.6072,98.6073,98.6076,98.6077,98.6079,98.6082,98.6084,98.6086,98.6087,98.6089,
98.6055,98.6057,98.6058,98.6059,98.6060,98.6062,98.6063,98.6064,98.6065,98.6066,
98.6068,98.6069,98.6070,98.6072,98.6072,98.6074,98.6076,98.6077,98.6079,98.6081,
98.6082,98.6084,98.6085,98.6087,98.6092,98.6094,98.6096,98.6098,98.6104];

// ---------- styling ----------
const NARROW = "'Liberation Sans Narrow','DejaVu Sans Condensed','Arial Narrow',sans-serif";
const BLUE = '#0072BD', ORANGE = '#D95319', AXISC = '#262626', GRIDC = 'rgba(38,38,38,0.16)';
Chart.defaults.font.family = NARROW;
const TITLE_SIZE = 23;

// table
(function(){
  const tops=[2,54,106], hs=[50,50,51], lefts=[871,1063,1158], ws=[190,93,104];
  const bgs=['#d0d7e8','#e9ecf5','#d0d7e8'];
  const tbl=document.getElementById('tbl');
  for(let r=0;r<tableNames.length;r++){
    const vals=[tableNames[r],tableCol1[r],tableCol2[r]];
    for(let c=0;c<3;c++){
      const d=document.createElement('div');
      d.className='cell';
      d.style.cssText=`left:${lefts[c]}px;top:${tops[r]}px;width:${ws[c]}px;height:${hs[r]}px;background:${bgs[r]};`+
        (c===0?'justify-content:flex-start;padding-left:15px;':'justify-content:flex-end;padding-right:12px;');
      d.textContent=vals[c];
      tbl.appendChild(d);
    }
  }
})();

function pts(xs, ys){ const n=Math.min(xs.length,ys.length); const o=[]; for(let i=0;i<n;i++) o.push({x:xs[i],y:ys[i]}); return o; }
function merged(a, b){ return a.concat(b).sort((p,q)=>p.x-q.x); }
function labelFor(list, labels, v){ for(let i=0;i<list.length;i++){ if(Math.abs(list[i]-v)<1e-7) return labels[i]; } return ''; }

function vlbiSet(data, r){ return {data, showLine:true, borderColor:BLUE, borderWidth:1.3, borderDash:[1.5,3], pointRadius:r, pointHoverRadius:r, pointBackgroundColor:BLUE, pointBorderWidth:0, tension:0}; }
function gpsSet(data){ return {data, showLine:true, borderColor:ORANGE, borderWidth:6, pointRadius:2.5, pointBackgroundColor:ORANGE, pointBorderWidth:0, tension:0}; }

function ellipse(chart, e){
  const {ctx, scales:{x,y}} = chart;
  const cx=x.getPixelForValue(e.x), rx=Math.abs(x.getPixelForValue(e.x+e.dx)-cx);
  const y0=y.getPixelForValue(e.y0), y1=y.getPixelForValue(e.y1);
  ctx.save(); ctx.beginPath(); ctx.ellipse(cx,(y0+y1)/2,rx,Math.abs(y1-y0)/2,0,0,Math.PI*2);
  ctx.strokeStyle='#000'; ctx.lineWidth=1.3; ctx.stroke(); ctx.restore();
}
function scaleBar(chart, s){
  const {ctx, scales:{x,y}} = chart;
  const ax=x.getPixelForValue(s.ax);
  const a0=y.getPixelForValue(s.a0), a1=y.getPixelForValue(s.a1);
  const top=Math.min(a0,a1), bot=Math.max(a0,a1), m=(top+bot)/2, L=bot-top;
  ctx.save();
  ctx.fillStyle='#000';
  ctx.beginPath(); ctx.moveTo(ax,top); ctx.lineTo(ax+5,top+L*0.42); ctx.lineTo(ax-5,top+L*0.42); ctx.closePath(); ctx.fill();
  ctx.beginPath(); ctx.moveTo(ax,bot); ctx.lineTo(ax+5,bot-L*0.42); ctx.lineTo(ax-5,bot-L*0.42); ctx.closePath(); ctx.fill();
  ctx.beginPath(); ctx.moveTo(ax,m-9); ctx.lineTo(ax+5,m); ctx.lineTo(ax,m+9); ctx.lineTo(ax-5,m); ctx.closePath();
  ctx.fillStyle='#fff'; ctx.fill(); ctx.strokeStyle='#000'; ctx.lineWidth=1.5; ctx.stroke();
  const bx0=x.getPixelForValue(s.bx0), bx1=x.getPixelForValue(s.bx1);
  const by0=y.getPixelForValue(s.by0), by1=y.getPixelForValue(s.by1);
  const bt=Math.min(by0,by1), bb=Math.max(by0,by1);
  ctx.fillStyle='#fff'; ctx.fillRect(bx0,bt,bx1-bx0,bb-bt);
  ctx.strokeStyle='#262626'; ctx.lineWidth=2; ctx.strokeRect(bx0,bt,bx1-bx0,bb-bt);
  ctx.fillStyle='#000'; ctx.font=`23px ${NARROW}`; ctx.textBaseline='middle'; ctx.textAlign='left';
  ctx.fillText('1 cm', bx0+8, (bt+bb)/2+1);
  ctx.restore();
}

function makeChart(spec){
  const c=document.createElement('canvas');
  c.width=spec.w; c.height=spec.h;
  c.style.left=spec.left+'px'; c.style.top=spec.top+'px';
  c.style.width=spec.w+'px'; c.style.height=spec.h+'px';
  document.body.appendChild(c);
  const boxPlugin={
    id:'matlabBox',
    afterDatasetsDraw(chart){
      const {ctx, chartArea:a, scales:{x,y}} = chart;
      ctx.save();
      ctx.strokeStyle=AXISC; ctx.lineWidth=2;
      ctx.strokeRect(a.left,a.top,a.right-a.left,a.bottom-a.top);
      ctx.beginPath();
      x.ticks.forEach(t=>{const p=x.getPixelForValue(t.value); ctx.moveTo(p,a.bottom); ctx.lineTo(p,a.bottom-9); ctx.moveTo(p,a.top); ctx.lineTo(p,a.top+9);});
      y.ticks.forEach(t=>{const p=y.getPixelForValue(t.value); ctx.moveTo(a.left,p); ctx.lineTo(a.left+9,p); ctx.moveTo(a.right,p); ctx.lineTo(a.right-9,p);});
      ctx.stroke();
      ctx.restore();
    },
    afterDraw(chart){ if(spec.extras) spec.extras(chart); }
  };
  const tickFont={family:NARROW,size:22};
  const lh = TITLE_SIZE*1.2;
  const padTop = 30 - lh/2;
  const padBottom = spec.plotTop - padTop - lh;
  return new Chart(c.getContext('2d'),{
    type:'scatter',
    data:{datasets:spec.datasets},
    options:{
      responsive:false, animation:false, devicePixelRatio:1,
      layout:{padding:{left:0,right:spec.padRight,top:0,bottom:0}},
      plugins:{
        legend:{display:false}, tooltip:{enabled:false},
        title:{display:true,text:spec.title,color:'#000',font:{family:NARROW,size:TITLE_SIZE,weight:'bold',lineHeight:1.2},padding:{top:padTop,bottom:padBottom}}
      },
      scales:{
        x:{type:'linear',min:2002,max:2016,
          afterBuildTicks:s=>{s.ticks=X_TICKS.map(v=>({value:v}));},
          afterFit:s=>{s.height=spec.xH;},
          ticks:{callback:v=>labelFor(X_TICKS,X_TICK_LABELS,v),font:tickFont,color:AXISC,padding:spec.xTickPad,maxRotation:0,autoSkip:false},
          grid:{color:GRIDC,lineWidth:1.5,drawTicks:false},
          border:{display:false},
          title:{display:true,text:spec.xTitle,font:{family:NARROW,size:24,lineHeight:1.2},color:AXISC,padding:0}
        },
        y:{type:'linear',min:spec.yMin,max:spec.yMax,reverse:!!spec.reverse,
          afterBuildTicks:s=>{s.ticks=spec.yTicks.map(v=>({value:v}));},
          afterFit:s=>{s.width=spec.yW;},
          ticks:{callback:v=>labelFor(spec.yTicks,spec.yLabels,v),font:tickFont,color:AXISC,padding:spec.yTickPad,autoSkip:false},
          grid:{color:GRIDC,lineWidth:1.5,drawTicks:false},
          border:{display:false},
          title:{display:!!spec.yTitle,text:spec.yTitle||'',font:{family:NARROW,size:24,lineHeight:1.2},color:AXISC,padding:{top:24,bottom:0}}
        }
      }
    },
    plugins:[boxPlugin]
  });
}

// ---------- left column ----------
const LEFT={left:0,w:1290,yW:110,padRight:107,yTickPad:13,xTitle:'dates',yTicks:CORR_TICKS,yLabels:CORR_TICK_LABELS};
makeChart(Object.assign({},LEFT,{
  top:170,h:306,plotTop:48,xH:66,xTickPad:9,yMin:-0.05,yMax:0.05,yTitle:'X /m',
  title:'X corrections Station TIGO VLBI 41719S001 & GPS 41719M002',
  datasets:[gpsSet(pts(gpsDates,gpsX)),vlbiSet(merged(pts(vlbiDates,vlbiX),pts(vlbiDates2,vlbiX2)),3.6)],
  extras(chart){
    const {ctx, scales:{x,y}} = chart;
    ellipse(chart,{x:2010.246,dx:0.274,y0:0.063,y1:-0.0125});
    const tx=x.getPixelForValue(2011.11), ty=y.getPixelForValue(-0.0667);
    const hx=x.getPixelForValue(2010.27), hy=y.getPixelForValue(-0.0125);
    ctx.save(); ctx.strokeStyle='#000'; ctx.lineWidth=1.3;
    ctx.beginPath(); ctx.moveTo(tx,ty); ctx.lineTo(hx,hy); ctx.stroke();
    const ang=Math.atan2(hy-ty,hx-tx), L=18, W=6;
    ctx.beginPath(); ctx.moveTo(hx,hy);
    ctx.lineTo(hx-L*Math.cos(ang)+W*Math.sin(ang), hy-L*Math.sin(ang)-W*Math.cos(ang));
    ctx.lineTo(hx-L*Math.cos(ang)-W*Math.sin(ang), hy-L*Math.sin(ang)+W*Math.cos(ang));
    ctx.closePath(); ctx.fillStyle='#000'; ctx.fill();
    ctx.font=`21px ${NARROW}`; ctx.textAlign='left'; ctx.textBaseline='middle';
    ctx.fillText('sysmic event: CHILI Mw8.8 2010-February-27', x.getPixelForValue(2011.25), y.getPixelForValue(-0.0745));
    // legend
    ctx.fillStyle='#fff'; ctx.fillRect(1064,23,157,57);
    ctx.strokeStyle='#262626'; ctx.lineWidth=2; ctx.strokeRect(1064,23,157,57);
    ctx.strokeStyle=BLUE; ctx.lineWidth=1.3; ctx.setLineDash([1.5,3]);
    ctx.beginPath(); ctx.moveTo(1070,38); ctx.lineTo(1124,38); ctx.stroke(); ctx.setLineDash([]);
    ctx.fillStyle=BLUE; ctx.beginPath(); ctx.arc(1097,38,3,0,Math.PI*2); ctx.fill();
    ctx.strokeStyle=ORANGE; ctx.lineWidth=3;
    ctx.beginPath(); ctx.moveTo(1070,64); ctx.lineTo(1124,64); ctx.stroke();
    ctx.fillStyle=ORANGE; ctx.beginPath(); ctx.arc(1097,64,3,0,Math.PI*2); ctx.fill();
    ctx.fillStyle='#000'; ctx.font=`20px ${NARROW}`;
    ctx.fillText('TIGO VLBI',1129,38); ctx.fillText('TIGO GPS',1129,64);
    ctx.restore();
  }
}));
makeChart(Object.assign({},LEFT,{
  top:465,h:306,plotTop:49,xH:65,xTickPad:8,yMin:-0.058,yMax:0.0535,yTitle:'Y /m',
  title:'Y corrections Station TIGO VLBI 41719S001 & GPS 41719M002',
  datasets:[gpsSet(pts(gpsDates,gpsY)),vlbiSet(merged(pts(vlbiDates,vlbiY),pts(vlbiDates2,vlbiY2)),3.6)],
  extras(chart){ ellipse(chart,{x:2010.233,dx:0.274,y0:0.0593,y1:-0.0145}); }
}));
makeChart(Object.assign({},LEFT,{
  top:758,h:310,plotTop:51,xH:67,xTickPad:8,yMin:-0.05,yMax:0.068,yTitle:'Z /m',
  title:'Z corrections Station TIGO VLBI 41719S001 & GPS 41719M002',
  datasets:[gpsSet(pts(gpsDates,gpsZ)),vlbiSet(merged(pts(vlbiDates,vlbiZ),pts(vlbiDates2,vlbiZ2)),3.6)],
  extras(chart){ ellipse(chart,{x:2010.14,dx:0.287,y0:0.0828,y1:-0.0031}); }
}));

// ---------- right column ----------
const RIGHT={left:1290,w:1220,yW:82,padRight:80,yTickPad:6,xTitle:'MJD'};
makeChart(Object.assign({},RIGHT,{
  top:167,h:308,plotTop:47,xH:68,xTickPad:10,yMin:46.65,yMax:46.68,reverse:true,
  yTicks:APR_X_TICKS,yLabels:APR_X_TICK_LABELS,
  title:'X TIGO GPS 41719M002 & VLBI 41719S001 Apriori Differences',
  datasets:[vlbiSet(merged(pts(aprXDates,aprXValues),pts(aprXDates2,aprXValues2)),4)],
  extras(chart){ scaleBar(chart,{ax:2002.357,a0:46.6707,a1:46.6794,bx0:2002.476,bx1:2003.535,by0:46.6724,by1:46.6789}); }
}));
makeChart(Object.assign({},RIGHT,{
  top:465,h:310,plotTop:48,xH:68,xTickPad:10,yMin:50.2648,yMax:50.3105,
  yTicks:APR_Y_TICKS,yLabels:APR_Y_TICK_LABELS,
  title:'Y TIGO GPS 41719M002 & VLBI 41719S001 Apriori Differences',
  datasets:[vlbiSet(merged(pts(aprYDates,aprYValues),pts(aprYDates2,aprYValues2)),4)],
  extras(chart){ scaleBar(chart,{ax:2002.357,a0:50.2908,a1:50.2791,bx0:2002.476,bx1:2003.535,by0:50.2901,by1:50.2800}); }
}));
makeChart(Object.assign({},RIGHT,{
  top:763,h:312,plotTop:49,xH:68,xTickPad:8,yMin:98.58,yMax:98.62,reverse:true,
  yTicks:APR_Z_TICKS,yLabels:APR_Z_TICK_LABELS,
  title:'Z TIGO GPS 41719M002 & VLBI 41719S001 Apriori Differences',
  datasets:[vlbiSet(merged(pts(aprZDates,aprZValues),pts(aprZDates2,aprZValues2)),4)],
  extras(chart){ scaleBar(chart,{ax:2002.357,a0:98.6002,a1:98.6098,bx0:2002.476,bx1:2003.535,by0:98.6004,by1:98.6090}); }
}));
</script>
</body>
</html>
